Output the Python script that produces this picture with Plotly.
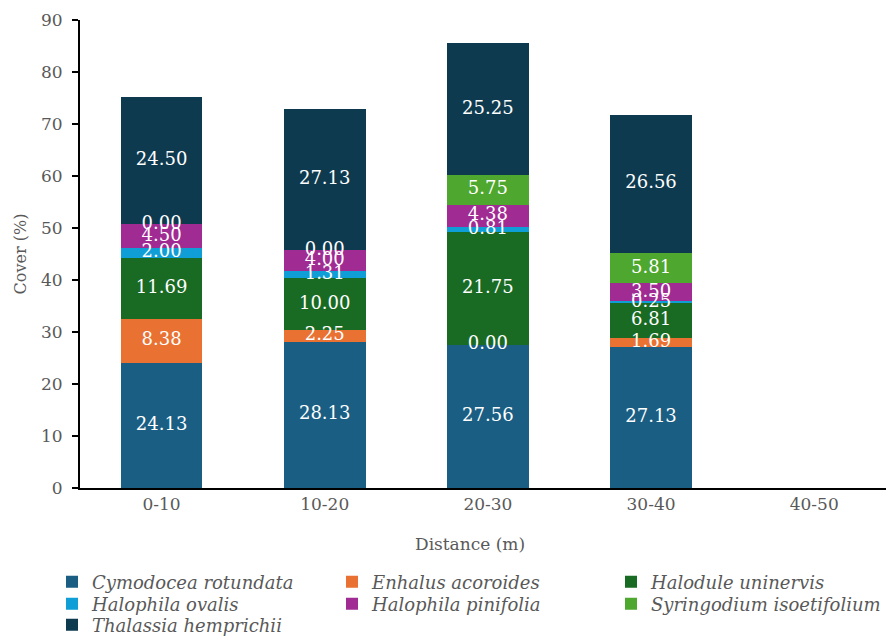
import plotly.graph_objects as go

categories = ["0-10", "10-20", "20-30", "30-40", "40-50"]
species = ["Cymodocea rotundata", "Enhalus acoroides", "Halodule uninervis",
           "Halophila ovalis", "Halophila pinifolia", "Syringodium isoetifolium",
           "Thalassia hemprichii"]
cymodocea = [24.13, 28.13, 27.56, 27.13, None]
enhalus = [8.38, 2.25, 0.00, 1.69, None]
halodule = [11.69, 10.00, 21.75, 6.81, None]
h_ovalis = [2.00, 1.31, 0.81, 0.25, None]
h_pinifolia = [4.50, 4.00, 4.38, 3.50, None]
syringodium = [0.00, 0.00, 5.75, 5.81, None]
thalassia = [24.50, 27.13, 25.25, 26.56, None]
colors = ["#1a5e84", "#e97132", "#196b24", "#0f9ed5", "#a02b93", "#4ea72e", "#0e3a50"]

series = [cymodocea, enhalus, halodule, h_ovalis, h_pinifolia, syringodium, thalassia]

FONT = "DejaVu Serif"
GREY = "#595959"
# legend entry layout: 3 columns x 3 rows (pixel positions of text start / row centre)
col_x = [52, 332, 611]
row_y = [582, 604, 625]

fig = go.Figure()
legends = {}
for k, (name, vals, col) in enumerate(zip(species, series, colors)):
    lname = "legend" if k == 0 else f"legend{k + 1}"
    fig.add_trace(go.Bar(x=categories, y=vals, name=name, marker_color=col,
                         marker_line_width=0, legend=lname))
    legends[lname] = dict(orientation="h", xref="container", yref="container",
                          x=col_x[k % 3] / 886, y=1 - row_y[k // 3] / 637,
                          xanchor="left", yanchor="middle",
                          bgcolor="rgba(0,0,0,0)", itemwidth=30,
                          font=dict(family=FONT, size=18, color=GREY, style="italic"))

# data labels centred in each stacked segment
base = [0.0] * len(categories)
for name, vals in zip(species, series):
    ys, txt = [], []
    for i, v in enumerate(vals):
        if v is None:
            ys.append(None); txt.append("")
        else:
            ys.append(base[i] + v / 2)
            txt.append(f"{v:.2f}")
            base[i] += v
    fig.add_trace(go.Scatter(x=categories, y=ys, text=txt, mode="text",
                             textfont=dict(family=FONT, size=18, color="white"),
                             showlegend=False, hoverinfo="skip"))

fig.update_layout(
    barmode="stack", bargap=0.5,
    width=886, height=637,
    margin=dict(l=80, r=0, t=20, b=149),
    plot_bgcolor="white", paper_bgcolor="white",
    font=dict(family=FONT, size=17, color=GREY),
    showlegend=True,
    annotations=[dict(text="Distance (m)", xref="paper", yref="paper",
                      x=(470 - 80) / 806, y=(488 - 544) / 468,
                      xanchor="center", yanchor="middle", showarrow=False,
                      font=dict(family=FONT, size=17, color=GREY))],
    **legends,
)
fig.update_xaxes(range=[-0.5, 4.44], showline=True, linecolor="black", linewidth=2,
                 ticks="", tickfont=dict(size=17, color=GREY))
fig.update_yaxes(range=[0, 90], dtick=10, showline=True, linecolor="black", linewidth=2,
                 ticks="outside", ticklen=6, tickcolor="black", tickwidth=1.5,
                 showgrid=False, zeroline=False, ticklabelstandoff=6,
                 title=dict(text="Cover (%)", standoff=10, font=dict(size=16, color=GREY)),
                 tickfont=dict(size=17, color=GREY))

fig.write_html("out.html")
